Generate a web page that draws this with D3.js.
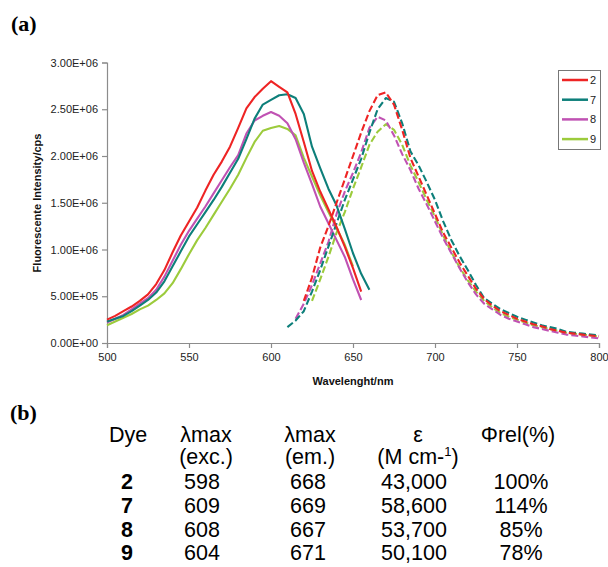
<!DOCTYPE html>
<html>
<head>
<meta charset="utf-8">
<script src="https://cdn.jsdelivr.net/npm/d3@7"></script>
<style>
  body { margin: 0; background: #fff; }
  svg text { font-family: Arial, "Liberation Sans", sans-serif; }
</style>
</head>
<body>
<script>
// series names and colours
var dyes = ['2', '7', '8', '9'];
var dyeColors = ['#ee2424', '#0d7f7a', '#c052b3', '#9ccb3c'];

// excitation spectra (solid), wavelength in nm, intensity in 1e6 cps
var excWl = [500, 505, 510, 515, 520, 525, 530, 535, 540, 545, 550, 555, 560, 565, 570, 575, 580, 585, 590, 595, 600, 605, 610, 615, 620, 625, 630, 635, 640, 645, 650, 655, 660];
var exc2 = [0.25, 0.29, 0.34, 0.39, 0.45, 0.52, 0.63, 0.78, 0.97, 1.15, 1.30, 1.45, 1.63, 1.80, 1.94, 2.10, 2.30, 2.51, 2.63, 2.72, 2.80, 2.74, 2.68, 2.45, 2.15, 1.84, 1.62, 1.43, 1.24, 1.03, 0.80, 0.55, null];
var exc7 = [0.23, 0.26, 0.29, 0.34, 0.40, 0.46, 0.54, 0.66, 0.82, 0.98, 1.14, 1.27, 1.40, 1.53, 1.67, 1.82, 1.97, 2.18, 2.40, 2.55, 2.60, 2.65, 2.66, 2.62, 2.45, 2.10, 1.87, 1.65, 1.47, 1.22, 0.96, 0.74, 0.57];
var exc8 = [0.22, 0.26, 0.30, 0.36, 0.42, 0.48, 0.57, 0.71, 0.88, 1.05, 1.20, 1.33, 1.46, 1.60, 1.74, 1.88, 2.01, 2.24, 2.38, 2.43, 2.47, 2.43, 2.35, 2.18, 1.93, 1.70, 1.46, 1.28, 1.10, 0.92, 0.68, 0.46, null];
var exc9 = [0.19, 0.23, 0.27, 0.31, 0.36, 0.40, 0.46, 0.53, 0.64, 0.79, 0.95, 1.10, 1.23, 1.37, 1.51, 1.65, 1.80, 1.98, 2.15, 2.27, 2.30, 2.32, 2.29, 2.22, 1.98, 1.78, 1.58, 1.40, 1.23, 1.05, 0.82, null, null];

// emission spectra (dashed)
var emWl = [610, 615, 620, 625, 630, 635, 640, 645, 650, 655, 660, 665, 670, 675, 680, 685, 690, 695, 700, 705, 710, 715, 720, 725, 730, 735, 740, 745, 750, 755, 760, 765, 770, 775, 780, 785, 790, 795, 800];
var em2 = [null, null, 0.45, 0.70, 1.02, 1.25, 1.50, 1.75, 2.00, 2.25, 2.48, 2.65, 2.68, 2.55, 2.28, 1.98, 1.78, 1.58, 1.38, 1.18, 1.02, 0.86, 0.72, 0.58, 0.47, 0.40, 0.34, 0.30, 0.26, 0.23, 0.20, 0.18, 0.15, 0.13, 0.11, 0.10, 0.09, 0.08, 0.07];
var em7 = [0.17, 0.24, 0.34, 0.55, 0.78, 1.03, 1.28, 1.53, 1.75, 1.97, 2.25, 2.50, 2.62, 2.58, 2.35, 2.05, 1.90, 1.72, 1.53, 1.30, 1.10, 0.93, 0.78, 0.62, 0.48, 0.42, 0.36, 0.32, 0.28, 0.25, 0.22, 0.19, 0.17, 0.15, 0.12, 0.11, 0.10, 0.09, 0.08];
var em8 = [null, 0.26, 0.42, 0.62, 0.85, 1.08, 1.38, 1.62, 1.82, 2.04, 2.30, 2.42, 2.38, 2.22, 2.02, 1.85, 1.65, 1.48, 1.30, 1.12, 0.96, 0.80, 0.65, 0.52, 0.42, 0.36, 0.30, 0.26, 0.23, 0.20, 0.17, 0.15, 0.13, 0.11, 0.09, 0.08, 0.07, 0.06, 0.05];
var em9 = [null, null, null, 0.45, 0.68, 0.92, 1.18, 1.40, 1.65, 1.88, 2.12, 2.26, 2.34, 2.28, 2.12, 1.90, 1.72, 1.53, 1.35, 1.15, 0.97, 0.81, 0.67, 0.55, 0.45, 0.38, 0.32, 0.28, 0.25, 0.22, 0.19, 0.17, 0.15, 0.13, 0.11, 0.10, 0.09, 0.08, 0.07];

var yTicks = [0, 0.5, 1.0, 1.5, 2.0, 2.5, 3.0];
var xTicks = [500, 550, 600, 650, 700, 750, 800];

// table (b)
var colHeads = ['Dye', '\u03bbmax', '\u03bbmax', '\u03b5', '\u03a6rel(%)'];
var colSubs = ['', '(exc.)', '(em.)', '(M cm-', ''];
var exMax = ['598', '609', '608', '604'];
var emMax = ['668', '669', '667', '671'];
var epsVals = ['43,000', '58,600', '53,700', '50,100'];
var phiRel = ['100%', '114%', '85%', '78%'];

var excSeries = [exc2, exc7, exc8, exc9];
var emSeries = [em2, em7, em8, em9];

var W = 608, H = 567;
var svg = d3.select('body').append('svg')
    .attr('width', W)
    .attr('height', H);

var x = d3.scaleLinear().domain([500, 800]).range([107, 599]);
var y = d3.scaleLinear().domain([0, 3]).range([343, 62.5]);

function sci(v) {
    var s = (v * 1e6).toExponential(2).toUpperCase();
    var parts = s.split('E');
    var exp = parts[1];
    var sign = exp[0];
    var digits = exp.slice(1);
    if (digits.length < 2) digits = '0' + digits;
    return parts[0] + 'E' + sign + digits;
}

// panel letters
svg.append('text').attr('x', 11).attr('y', 31)
    .style('font-family', '"Liberation Serif", "Times New Roman", serif')
    .style('font-weight', 'bold').style('font-size', '22px')
    .text('(a)');
svg.append('text').attr('x', 10).attr('y', 420)
    .style('font-family', '"Liberation Serif", "Times New Roman", serif')
    .style('font-weight', 'bold').style('font-size', '22px')
    .text('(b)');

// axes
var yAxis = svg.append('g')
    .attr('transform', 'translate(107,0)')
    .call(d3.axisLeft(y).tickValues(yTicks).tickSize(5).tickPadding(4).tickFormat(sci));
var xAxis = svg.append('g')
    .attr('transform', 'translate(0,343)')
    .call(d3.axisBottom(x).tickValues(xTicks).tickSize(5).tickPadding(5).tickFormat(d3.format('d')));

[yAxis, xAxis].forEach(function(a) {
    a.selectAll('path, line').attr('stroke', '#8c8c8c').attr('stroke-width', 1.2);
    a.selectAll('text').attr('fill', '#222').style('font-size', '11px')
        .style('font-family', 'Arial, "Liberation Sans", sans-serif');
});

svg.append('text')
    .attr('transform', 'translate(41,203) rotate(-90)')
    .attr('text-anchor', 'middle')
    .style('font-size', '11px').style('font-weight', 'bold')
    .attr('fill', '#111')
    .text('Fluorescente Intensity/cps');

svg.append('text')
    .attr('x', 353).attr('y', 385)
    .attr('text-anchor', 'middle')
    .style('font-size', '11px').style('font-weight', 'bold')
    .attr('fill', '#111')
    .text('Wavelenght/nm');

// lines
function drawSeries(wl, vals, color, dashed) {
    var pts = wl.map(function(w, i) { return [w, vals[i]]; })
        .filter(function(p) { return p[1] != null; });
    svg.append('path')
        .datum(pts)
        .attr('fill', 'none')
        .attr('stroke', color)
        .attr('stroke-width', 2.1)
        .attr('stroke-linejoin', 'round')
        .attr('stroke-dasharray', dashed ? '7,3' : null)
        .attr('d', d3.line()
            .x(function(d) { return x(d[0]); })
            .y(function(d) { return y(d[1]); }));
}

// draw green first so red sits on top, like the reference
for (var i = dyes.length - 1; i >= 0; i--) {
    drawSeries(excWl, excSeries[i], dyeColors[i], false);
    drawSeries(emWl, emSeries[i], dyeColors[i], true);
}

// legend
var leg = svg.append('g');
leg.append('rect')
    .attr('x', 558.5).attr('y', 70.5)
    .attr('width', 42).attr('height', 79)
    .attr('fill', '#fff').attr('stroke', '#777').attr('stroke-width', 1);
dyes.forEach(function(d, i) {
    var ly = 80 + i * 19.7;
    leg.append('line')
        .attr('x1', 562).attr('x2', 588)
        .attr('y1', ly).attr('y2', ly)
        .attr('stroke', dyeColors[i]).attr('stroke-width', 2.5);
    leg.append('text')
        .attr('x', 590).attr('y', ly + 4)
        .style('font-size', '11px').attr('fill', '#222')
        .text(d);
});

// table
var colX = [128, 206, 310, 418, 518];
var tbl = svg.append('g').style('font-size', '21.5px').attr('fill', '#000');
colHeads.forEach(function(h, i) {
    tbl.append('text').attr('x', colX[i]).attr('y', 442)
        .attr('text-anchor', 'middle').text(h);
});
colSubs.forEach(function(s, i) {
    if (!s) return;
    var t = tbl.append('text').attr('x', colX[i]).attr('y', 464)
        .attr('text-anchor', 'middle');
    t.append('tspan').text(s);
    if (i === 3) {
        t.append('tspan').attr('dy', -8).style('font-size', '13px').text('1');
        t.append('tspan').attr('dy', 8).text(')');
    }
});
var rowY = [489, 513, 537, 560];
dyes.forEach(function(d, r) {
    var cells = [d, exMax[r], emMax[r], epsVals[r], phiRel[r]];
    var cx = [127, 202, 308, 414, 521];
    cells.forEach(function(c, i) {
        tbl.append('text').attr('x', cx[i]).attr('y', rowY[r])
            .attr('text-anchor', 'middle')
            .style('font-weight', i === 0 ? 'bold' : 'normal')
            .text(c);
    });
});
</script>
</body>
</html>
